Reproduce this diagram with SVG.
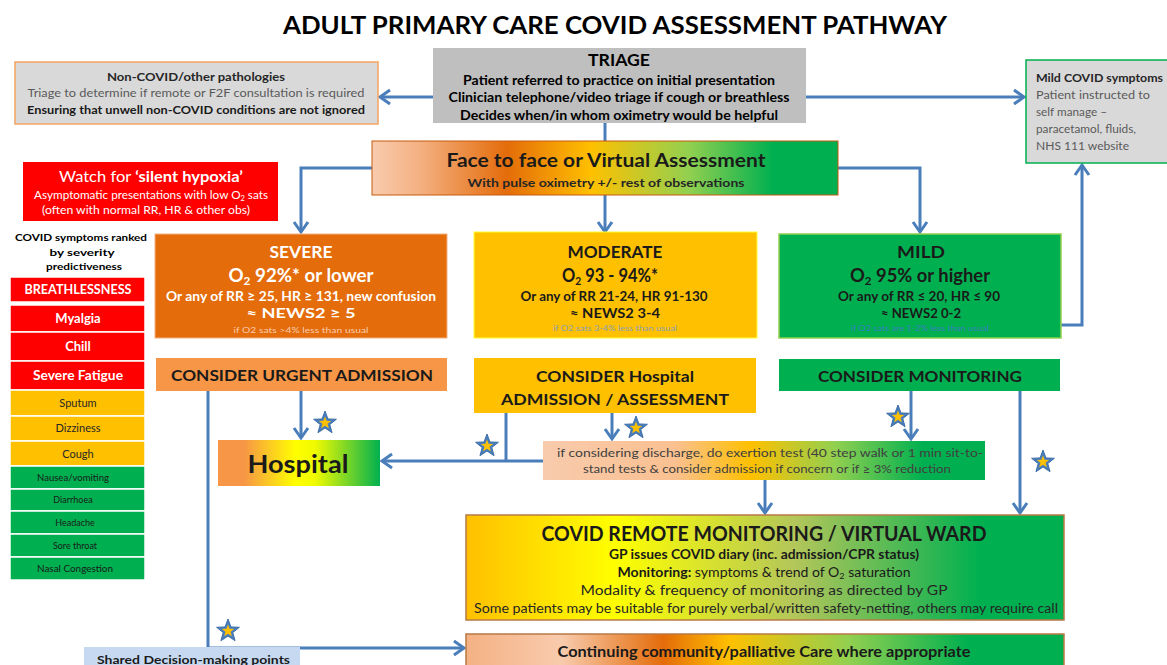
<svg xmlns="http://www.w3.org/2000/svg" width="1167" height="665" viewBox="0 0 1167 665">
  <style>
    text { font-family: Lato, "Liberation Sans", "Noto Sans", sans-serif; }
    .b { font-weight: bold; }
    .mid { text-anchor: middle; }
    .conn { fill: none; stroke: #4a7ebb; stroke-width: 3; }
    .row { stroke: #ffffff; stroke-width: 1.5; }
    .red { fill: #ff0000; }
    .amb { fill: #ffc000; }
    .grn { fill: #00b050; }
  </style>
  <defs>
    <marker id="arr" markerUnits="userSpaceOnUse" markerWidth="18" markerHeight="18" viewBox="0 0 18 18" refX="14" refY="9" orient="auto">
      <path d="M4,2 L14,9 L4,16" fill="none" stroke="#4a7ebb" stroke-width="3"/>
    </marker>
    <!-- shared decision-making star: blue star with a gold centre -->
    <g id="star">
      <path d="M0,-12 L2.95,-4.06 L11.41,-3.71 L4.77,1.55 L7.05,9.71 L0,5 L-7.05,9.71 L-4.77,1.55 L-11.41,-3.71 L-2.95,-4.06 Z" fill="#4a7ebb" stroke="#3d6ea8" stroke-width="1" stroke-linejoin="miter"/>
      <path d="M0,-6.5 L1.6,-2.2 L6.18,-2.01 L2.58,0.84 L3.82,5.26 L0,2.7 L-3.82,5.26 L-2.58,0.84 L-6.18,-2.01 L-1.6,-2.2 Z" fill="#ffc000"/>
    </g>
    <linearGradient id="gFace" x1="0" y1="0" x2="1" y2="0">
      <stop offset="0" stop-color="#f8cbad"/>
      <stop offset="0.1" stop-color="#f4b183"/>
      <stop offset="0.29" stop-color="#e46c0a"/>
      <stop offset="0.47" stop-color="#ffc000"/>
      <stop offset="0.68" stop-color="#92d050"/>
      <stop offset="0.86" stop-color="#00b050"/>
      <stop offset="1" stop-color="#00b050"/>
    </linearGradient>
    <linearGradient id="gCont" x1="0" y1="0" x2="1" y2="0">
      <stop offset="0" stop-color="#f4b183"/>
      <stop offset="0.16" stop-color="#f8cbad"/>
      <stop offset="0.33" stop-color="#e46c0a"/>
      <stop offset="0.44" stop-color="#ffc000"/>
      <stop offset="0.64" stop-color="#92d050"/>
      <stop offset="0.84" stop-color="#00b050"/>
      <stop offset="1" stop-color="#00b050"/>
    </linearGradient>
    <linearGradient id="gHosp" x1="0" y1="0" x2="1" y2="0">
      <stop offset="0" stop-color="#f79646"/>
      <stop offset="0.16" stop-color="#f79646"/>
      <stop offset="0.48" stop-color="#ffff00"/>
      <stop offset="0.6" stop-color="#f0fa00"/>
      <stop offset="1" stop-color="#00b050"/>
    </linearGradient>
    <linearGradient id="gExer" x1="0" y1="0" x2="1" y2="0">
      <stop offset="0" stop-color="#f8cbad"/>
      <stop offset="0.3" stop-color="#fac090"/>
      <stop offset="0.47" stop-color="#ffc000"/>
      <stop offset="0.66" stop-color="#92d050"/>
      <stop offset="0.86" stop-color="#00b050"/>
      <stop offset="1" stop-color="#00b050"/>
    </linearGradient>
    <linearGradient id="gRemote" x1="0" y1="0" x2="1" y2="0">
      <stop offset="0" stop-color="#ffc000"/>
      <stop offset="0.25" stop-color="#ffff00"/>
      <stop offset="0.55" stop-color="#b3c65a"/>
      <stop offset="0.86" stop-color="#00b050"/>
      <stop offset="1" stop-color="#00b050"/>
    </linearGradient>
  </defs>

  <rect width="1167" height="665" fill="#ffffff"/>

  <text id="title" class="b mid" x="615" y="34" font-size="25" textLength="664" lengthAdjust="spacingAndGlyphs">ADULT PRIMARY CARE COVID ASSESSMENT PATHWAY</text>

  <!-- connectors -->
  <g id="connectors">
    <line class="conn" x1="433" y1="97" x2="380" y2="97" marker-end="url(#arr)"/>
    <line class="conn" x1="806" y1="97" x2="1024" y2="97" marker-end="url(#arr)"/>
    <line class="conn" x1="605" y1="123" x2="605" y2="141"/>
    <polyline class="conn" points="372,168 301,168 301,232" marker-end="url(#arr)"/>
    <line class="conn" x1="605" y1="195" x2="605" y2="232" marker-end="url(#arr)"/>
    <polyline class="conn" points="838,168 920,168 920,232" marker-end="url(#arr)"/>
    <polyline class="conn" points="1061,325 1082,325 1082,165" marker-end="url(#arr)"/>
    <line class="conn" x1="301" y1="391" x2="301" y2="438" marker-end="url(#arr)"/>
    <polyline class="conn" points="208,391 208,648 464,648" marker-end="url(#arr)"/>
    <line class="conn" x1="543" y1="461" x2="382" y2="461" marker-end="url(#arr)"/>
    <line class="conn" x1="506" y1="413" x2="506" y2="461"/>
    <line class="conn" x1="612" y1="413" x2="612" y2="439" marker-end="url(#arr)"/>
    <line class="conn" x1="911" y1="391" x2="911" y2="439" marker-end="url(#arr)"/>
    <line class="conn" x1="1020" y1="391" x2="1020" y2="513" marker-end="url(#arr)"/>
    <line class="conn" x1="765" y1="480" x2="765" y2="513" marker-end="url(#arr)"/>
  </g>

  <!-- shared decision-making stars -->
  <g id="stars">
    <use href="#star" x="325" y="423"/>
    <use href="#star" x="487" y="446"/>
    <use href="#star" x="636" y="428"/>
    <use href="#star" x="898" y="417"/>
    <use href="#star" x="1043" y="462"/>
    <use href="#star" x="228" y="631"/>
  </g>

  <g id="triage">
    <rect x="433" y="48" width="373" height="75" fill="#bfbfbf"/>
    <text class="b mid" x="619" y="66" font-size="17" textLength="62" lengthAdjust="spacingAndGlyphs">TRIAGE</text>
    <text class="b mid" x="619" y="85" font-size="13" textLength="312" lengthAdjust="spacingAndGlyphs">Patient referred to practice on initial presentation</text>
    <text class="b mid" x="619" y="102" font-size="13" textLength="341" lengthAdjust="spacingAndGlyphs">Clinician telephone/video triage if cough or breathless</text>
    <text class="b mid" x="619" y="120" font-size="13" textLength="318" lengthAdjust="spacingAndGlyphs">Decides when/in whom oximetry would be helpful</text>
  </g>

  <g id="non-covid">
    <rect x="15" y="62" width="363" height="62" fill="#d9d9d9" stroke="#f4a460" stroke-width="1.5"/>
    <text class="b mid" x="196" y="81" font-size="12" fill="#262626" textLength="178" lengthAdjust="spacingAndGlyphs">Non-COVID/other pathologies</text>
    <text class="mid" x="196" y="97" font-size="12" fill="#595959" textLength="337" lengthAdjust="spacingAndGlyphs">Triage to determine  if remote or F2F consultation is required</text>
    <text class="b mid" x="196" y="114" font-size="12" fill="#1a1a1a" textLength="338" lengthAdjust="spacingAndGlyphs">Ensuring that unwell non-COVID conditions are not ignored</text>
  </g>

  <g id="mild-covid">
    <rect x="1026" y="60" width="145" height="103" fill="#d9d9d9" stroke="#00b050" stroke-width="1.5"/>
    <text class="b" x="1036" y="82" font-size="11" fill="#262626" textLength="127" lengthAdjust="spacingAndGlyphs">Mild COVID symptoms</text>
    <text x="1036" y="99" font-size="11" fill="#595959" textLength="114" lengthAdjust="spacingAndGlyphs">Patient instructed to</text>
    <text x="1036" y="116" font-size="11" fill="#595959" textLength="71" lengthAdjust="spacingAndGlyphs">self manage –</text>
    <text x="1036" y="133" font-size="11" fill="#595959" textLength="100" lengthAdjust="spacingAndGlyphs">paracetamol, fluids,</text>
    <text x="1036" y="150" font-size="11" fill="#595959" textLength="93" lengthAdjust="spacingAndGlyphs">NHS 111 website</text>
  </g>

  <g id="assessment">
    <rect x="372" y="141" width="466" height="54" fill="url(#gFace)" stroke="#c55a11" stroke-width="1"/>
    <text class="b mid" x="606" y="167" font-size="19" fill="#1a1a1a" textLength="319" lengthAdjust="spacingAndGlyphs">Face to face or Virtual Assessment</text>
    <text class="b mid" x="606" y="187" font-size="12" fill="#262626" textLength="277" lengthAdjust="spacingAndGlyphs">With pulse oximetry +/- rest of observations</text>
  </g>

  <g id="silent-hypoxia">
    <rect x="23" y="162" width="255" height="59" fill="#ff0000"/>
    <text class="mid" x="151" y="182" font-size="15" fill="#ffffff" textLength="184" lengthAdjust="spacingAndGlyphs">Watch for <tspan class="b">‘silent hypoxia’</tspan></text>
    <text class="mid" x="151" y="199" font-size="11" fill="#ffffff" textLength="234" lengthAdjust="spacingAndGlyphs">Asymptomatic presentations with low O<tspan font-size="7" dy="2">2</tspan><tspan dy="-2"> sats</tspan></text>
    <text class="mid" x="146" y="214" font-size="11" fill="#ffffff" textLength="208" lengthAdjust="spacingAndGlyphs">(often with normal RR, HR &amp; other obs)</text>
  </g>

  <g id="ranking-heading">
    <text class="b mid" x="81" y="241" font-size="10" fill="#000000" textLength="132" lengthAdjust="spacingAndGlyphs">COVID symptoms ranked</text>
    <text class="b mid" x="82" y="256" font-size="10" fill="#000000" textLength="65" lengthAdjust="spacingAndGlyphs">by severity</text>
    <text class="b mid" x="84" y="270" font-size="10" fill="#000000" textLength="76" lengthAdjust="spacingAndGlyphs">predictiveness</text>
  </g>

  <g id="symptom-list">
    <rect class="red row" x="10" y="277" width="135" height="25"/>
    <text class="b mid" x="78" y="294" font-size="12.5" fill="#ffffff" textLength="107" lengthAdjust="spacingAndGlyphs">BREATHLESSNESS</text>
    <rect class="red row" x="10" y="305" width="135" height="27"/>
    <text class="b mid" x="78" y="323" font-size="13" fill="#ffffff">Myalgia</text>
    <rect class="red row" x="10" y="332" width="135" height="29"/>
    <text class="b mid" x="78" y="351" font-size="13" fill="#ffffff">Chill</text>
    <rect class="red row" x="10" y="361" width="135" height="29"/>
    <text class="b mid" x="78" y="380" font-size="13" fill="#ffffff" textLength="90" lengthAdjust="spacingAndGlyphs">Severe Fatigue</text>
    <rect class="amb row" x="10" y="390" width="135" height="26"/>
    <text class="mid" x="78" y="407" font-size="11" fill="#262626">Sputum</text>
    <rect class="amb row" x="10" y="416" width="135" height="25"/>
    <text class="mid" x="78" y="432" font-size="11" fill="#262626">Dizziness</text>
    <rect class="amb row" x="10" y="441" width="135" height="25"/>
    <text class="mid" x="78" y="458" font-size="11" fill="#262626">Cough</text>
    <rect class="grn row" x="10" y="466" width="135" height="23"/>
    <text class="mid" x="73" y="481" font-size="9" fill="#1a1a1a" textLength="72" lengthAdjust="spacingAndGlyphs">Nausea/vomiting</text>
    <rect class="grn row" x="10" y="489" width="135" height="22"/>
    <text class="mid" x="73" y="503" font-size="9" fill="#1a1a1a">Diarrhoea</text>
    <rect class="grn row" x="10" y="511" width="135" height="23"/>
    <text class="mid" x="75" y="526" font-size="9" fill="#1a1a1a">Headache</text>
    <rect class="grn row" x="10" y="534" width="135" height="23"/>
    <text class="mid" x="75" y="549" font-size="9" fill="#1a1a1a">Sore throat</text>
    <rect class="grn row" x="10" y="557" width="135" height="23"/>
    <text class="mid" x="75" y="572" font-size="9" fill="#1a1a1a" textLength="76" lengthAdjust="spacingAndGlyphs">Nasal Congestion</text>
  </g>

  <g id="severe">
    <rect x="155" y="234" width="292" height="104" fill="#e46c0a" stroke="#f4b183" stroke-width="1"/>
    <text class="b mid" x="301" y="258" font-size="17" fill="#ffffff" textLength="63" lengthAdjust="spacingAndGlyphs">SEVERE</text>
    <text class="b mid" x="301" y="282" font-size="19" fill="#ffffff" textLength="145" lengthAdjust="spacingAndGlyphs">O<tspan font-size="12" dy="3">2</tspan><tspan dy="-3"> 92%* or lower</tspan></text>
    <text class="b mid" x="301" y="301" font-size="12.5" fill="#ffffff" textLength="270" lengthAdjust="spacingAndGlyphs">Or any of RR ≥ 25, HR ≥ 131, new confusion</text>
    <text class="b mid" x="301" y="318" font-size="12.5" fill="#ffffff" textLength="109" lengthAdjust="spacingAndGlyphs">≈ NEWS2 ≥ 5</text>
    <text class="mid" x="301" y="333" font-size="7" fill="#f8cbad" textLength="135" lengthAdjust="spacingAndGlyphs">if O2 sats &gt;4% less than usual</text>
  </g>

  <g id="moderate">
    <rect x="474" y="232" width="283" height="106" fill="#ffc000" stroke="#ffff33" stroke-width="1"/>
    <text class="b mid" x="615" y="258" font-size="17" fill="#1a1a1a" textLength="95" lengthAdjust="spacingAndGlyphs">MODERATE</text>
    <text class="b mid" x="610" y="282" font-size="19" fill="#1a1a1a" textLength="96" lengthAdjust="spacingAndGlyphs">O<tspan font-size="12" dy="3">2</tspan><tspan dy="-3"> 93 - 94%*</tspan></text>
    <text class="b mid" x="614" y="301" font-size="12.5" fill="#1a1a1a" textLength="187" lengthAdjust="spacingAndGlyphs">Or any of RR 21-24, HR 91-130</text>
    <text class="b mid" x="615" y="318" font-size="12.5" fill="#1a1a1a" textLength="90" lengthAdjust="spacingAndGlyphs">≈ NEWS2 3-4</text>
    <text class="mid" x="615" y="331" font-size="7" fill="#8a9fb8" textLength="124" lengthAdjust="spacingAndGlyphs">if O2 sats 3-4% less than usual</text>
  </g>

  <g id="mild">
    <rect x="779" y="234" width="282" height="104" fill="#00b050" stroke="#92d050" stroke-width="1.5"/>
    <text class="b mid" x="921" y="258" font-size="17" fill="#1a1a1a" textLength="48" lengthAdjust="spacingAndGlyphs">MILD</text>
    <text class="b mid" x="920" y="282" font-size="19" fill="#1a1a1a" textLength="140" lengthAdjust="spacingAndGlyphs">O<tspan font-size="12" dy="3">2</tspan><tspan dy="-3"> 95% or higher</tspan></text>
    <text class="b mid" x="919" y="301" font-size="12.5" fill="#1a1a1a" textLength="162" lengthAdjust="spacingAndGlyphs">Or any of RR ≤ 20, HR ≤ 90</text>
    <text class="b mid" x="921" y="318" font-size="12.5" fill="#1a1a1a" textLength="80" lengthAdjust="spacingAndGlyphs">≈ NEWS2 0-2</text>
    <text class="mid" x="920" y="331" font-size="7" fill="#3a7fc0" textLength="138" lengthAdjust="spacingAndGlyphs">if O2 sats are 1-2% less than usual</text>
  </g>

  <g id="urgent-admission">
    <rect x="156" y="358" width="291" height="33" fill="#f79646"/>
    <text class="b mid" x="302" y="381" font-size="15" fill="#1a1a1a" textLength="262" lengthAdjust="spacingAndGlyphs">CONSIDER URGENT ADMISSION</text>
  </g>

  <g id="hospital-assessment">
    <rect x="474" y="358" width="282" height="55" fill="#ffc000"/>
    <text class="b mid" x="615" y="382" font-size="16" fill="#1a1a1a" textLength="158" lengthAdjust="spacingAndGlyphs">CONSIDER Hospital</text>
    <text class="b mid" x="615" y="405" font-size="16" fill="#1a1a1a" textLength="228" lengthAdjust="spacingAndGlyphs">ADMISSION / ASSESSMENT</text>
  </g>

  <g id="consider-monitoring">
    <rect x="779" y="359" width="281" height="32" fill="#00b050"/>
    <text class="b mid" x="920" y="382" font-size="15" fill="#1a1a1a" textLength="204" lengthAdjust="spacingAndGlyphs">CONSIDER MONITORING</text>
  </g>

  <g id="hospital">
    <rect x="218" y="440" width="162" height="46" fill="url(#gHosp)"/>
    <text class="b mid" x="298" y="473" font-size="24" fill="#1a1a1a" textLength="101" lengthAdjust="spacingAndGlyphs">Hospital</text>
  </g>

  <g id="exertion-test">
    <rect x="543" y="441" width="442" height="39" fill="url(#gExer)"/>
    <text class="mid" x="770" y="457" font-size="12" fill="#404040" textLength="426" lengthAdjust="spacingAndGlyphs">if considering discharge, do exertion test (40 step walk or 1 min sit-to-</text>
    <text class="mid" x="767" y="473" font-size="12" fill="#404040" textLength="368" lengthAdjust="spacingAndGlyphs">stand tests &amp; consider admission if concern or if ≥ 3% reduction</text>
  </g>

  <g id="remote-monitoring">
    <rect x="466" y="515" width="598" height="105" fill="url(#gRemote)" stroke="#b87a45" stroke-width="1.5"/>
    <text class="b mid" x="764" y="541" font-size="20" fill="#1a1a1a" textLength="445" lengthAdjust="spacingAndGlyphs">COVID REMOTE MONITORING / VIRTUAL WARD</text>
    <text class="b mid" x="764" y="559" font-size="12.5" fill="#1a1a1a" textLength="310" lengthAdjust="spacingAndGlyphs">GP issues COVID diary (inc. admission/CPR status)</text>
    <text class="mid" x="764" y="577" font-size="12.5" fill="#1a1a1a" textLength="293" lengthAdjust="spacingAndGlyphs"><tspan class="b">Monitoring:</tspan> symptoms &amp; trend of O<tspan font-size="8" dy="2">2</tspan><tspan dy="-2"> saturation</tspan></text>
    <text class="mid" x="764" y="595" font-size="12.5" fill="#262626" textLength="367" lengthAdjust="spacingAndGlyphs">Modality &amp; frequency of monitoring as directed by GP</text>
    <text class="mid" x="766" y="613" font-size="12.5" fill="#262626" textLength="584" lengthAdjust="spacingAndGlyphs">Some patients may be suitable for purely verbal/written safety-netting, others may require call</text>
  </g>

  <g id="continuing-care">
    <rect x="466" y="634" width="598" height="40" fill="url(#gCont)" stroke="#b87a45" stroke-width="1.5"/>
    <text class="b mid" x="764" y="657" font-size="15" fill="#1a1a1a" textLength="413" lengthAdjust="spacingAndGlyphs">Continuing  community/palliative Care where appropriate</text>
  </g>

  <g id="shared-decision">
    <rect x="84" y="647" width="216" height="25" fill="#c6d9f1"/>
    <text class="b" x="97" y="664" font-size="12" fill="#1a1a1a" textLength="193" lengthAdjust="spacingAndGlyphs">Shared Decision-making points</text>
  </g>
</svg>
